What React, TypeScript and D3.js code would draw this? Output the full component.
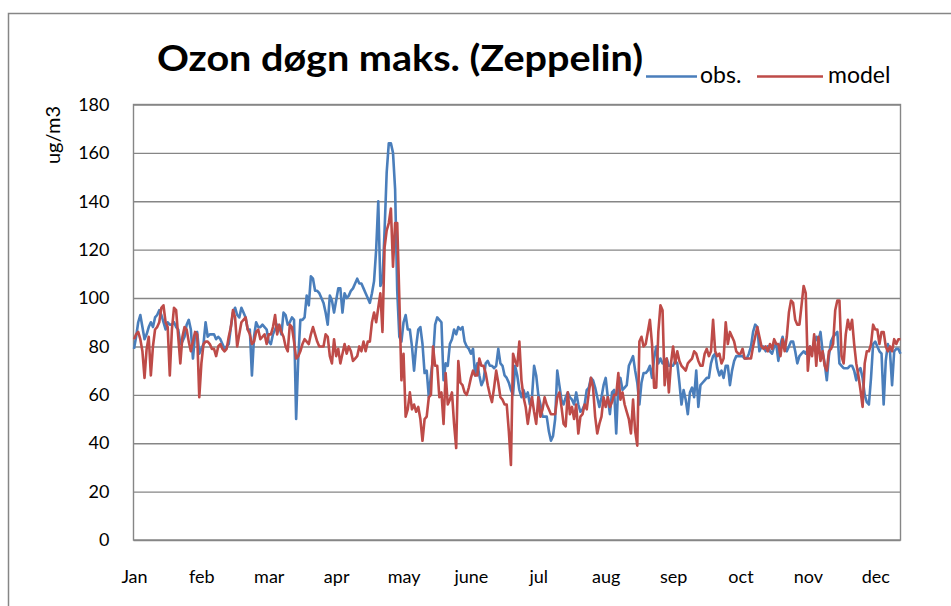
import React, { useEffect, useRef } from "react";
import * as d3 from "d3";

// daily maximum ozone, Zeppelin, one value per day (ug/m3)
const obs: number[] = [
  79, 84, 90, 93, 88, 83, 85, 88, 90, 88,
  92, 93, 95, 93, 90, 87, 90, 89, 89, 90,
  88, 87, 81, 82, 84, 89, 91, 87, 75, 85,
  86, 77, 79, 81, 90, 84, 85, 85, 85, 83,
  84, 83, 81, 79, 80, 81, 88, 94, 96, 93,
  92, 96, 94, 92, 87, 87, 68, 84, 90, 88,
  88, 89, 88, 87, 82, 81, 85, 87, 89, 88,
  85, 94, 93, 89, 90, 92, 91, 50, 75, 91,
  91, 92, 101, 97, 109, 108, 103, 103, 102, 100,
  98, 94, 89, 101, 99, 94, 99, 104, 104, 94,
  102, 100, 101, 103, 104, 106, 108, 106, 106, 104,
  102, 100, 98, 102, 107, 120, 140, 105, 107, 128,
  152, 164, 164, 160, 145, 103, 84, 82, 90, 93,
  87, 87, 80, 70, 80, 87, 88, 81, 69, 70,
  59, 68, 75, 89, 92, 91, 90, 66, 73, 72,
  81, 83, 87, 85, 88, 87, 88, 82, 80, 79,
  77, 79, 68, 73, 68, 64, 66, 73, 74, 72,
  72, 71, 72, 79, 73, 72, 68, 67, 65, 62,
  60, 72, 68, 62, 59, 62, 59, 61, 56, 59,
  72, 68, 60, 56, 51, 51, 51, 45, 41, 43,
  50, 70, 64, 58, 56, 59, 61, 59, 58, 56,
  61, 56, 53, 54, 56, 62, 63, 67, 66, 63,
  59, 55, 59, 64, 67, 59, 52, 61, 62, 44,
  65, 67, 62, 63, 64, 72, 74, 76, 70, 65,
  56, 65, 69, 69, 70, 72, 67, 75, 80, 73,
  75, 73, 74, 75, 72, 72, 72, 74, 73, 65,
  56, 62, 58, 52, 61, 63, 59, 70, 55, 64,
  65, 66, 67, 67, 73, 76, 77, 71, 68, 70,
  67, 72, 72, 64, 70, 74, 76, 76, 76, 76,
  75, 75, 77, 80, 86, 89, 88, 78, 80, 80,
  78, 80, 78, 77, 80, 81, 74, 81, 84, 80,
  78, 80, 82, 82, 78, 73, 76, 77, 78, 77,
  79, 80, 78, 81, 84, 82, 86, 78, 73, 66,
  76, 82, 84, 85, 86, 73, 72, 71, 71, 71,
  72, 72, 70, 66, 70, 71, 67, 60, 57, 56,
  67, 81, 82, 80, 78, 77, 56, 74, 81, 78,
  64, 78, 79, 79, 77,
];

const model: number[] = [
  83, 85, 86, 83, 78, 67, 79, 84, 68, 80,
  87, 88, 90, 96, 97, 90, 88, 68, 87, 96,
  95, 84, 73, 84, 88, 87, 82, 78, 82, 86,
  85, 59, 73, 81, 82, 82, 81, 79, 79, 76,
  80, 81, 79, 78, 79, 84, 88, 95, 92, 80,
  85, 90, 91, 92, 87, 85, 81, 82, 86, 87,
  83, 84, 85, 81, 85, 85, 88, 93, 85, 89,
  86, 84, 80, 78, 89, 88, 82, 75, 76, 78,
  81, 83, 82, 81, 85, 88, 85, 82, 80, 80,
  80, 85, 84, 76, 73, 83, 76, 79, 73, 77,
  81, 77, 80, 78, 74, 75, 76, 80, 78, 82,
  78, 82, 82, 90, 94, 90, 96, 102, 86, 121,
  128, 131, 137, 113, 131, 131, 100, 66, 77, 51,
  54, 61, 54, 56, 53, 55, 50, 41, 50, 51,
  59, 60, 80, 72, 72, 59, 61, 48, 69, 56,
  58, 61, 48, 38, 74, 65, 64, 61, 60, 63,
  67, 70, 68, 68, 75, 72, 72, 69, 64, 60,
  57, 63, 70, 65, 59, 58, 56, 56, 45, 31,
  77, 74, 72, 82, 66, 59, 55, 48, 54, 59,
  53, 48, 59, 51, 54, 59, 56, 54, 52, 52,
  52, 59, 61, 55, 48, 47, 61, 52, 55, 50,
  56, 44, 51, 52, 56, 54, 61, 67, 63, 51,
  44, 48, 51, 59, 55, 59, 55, 57, 60, 60,
  69, 58, 61, 56, 53, 50, 44, 58, 45, 39,
  82, 84, 80, 81, 86, 91, 81, 63, 63, 86,
  97, 95, 64, 75, 61, 73, 80, 73, 78, 74,
  72, 71, 70, 73, 74, 75, 78, 77, 74, 72,
  72, 77, 79, 76, 78, 91, 78, 76, 77, 73,
  75, 90, 81, 86, 84, 82, 78, 77, 77, 79,
  75, 75, 75, 75, 80, 84, 88, 84, 80, 79,
  80, 78, 81, 79, 83, 81, 81, 76, 83, 78,
  84, 94, 99, 98, 91, 89, 89, 97, 105, 102,
  70, 80, 76, 85, 72, 84, 74, 78, 72, 70,
  78, 79, 81, 95, 99, 99, 76, 73, 85, 91,
  87, 91, 81, 73, 68, 62, 55, 73, 78, 78,
  81, 89, 87, 87, 81, 86, 86, 80, 78, 80,
  78, 83, 81, 83, 83,
];

const monthLabels = ["Jan", "feb", "mar", "apr", "may", "june", "jul", "aug", "sep", "oct", "nov", "dec"];
const monthLabelDays = [0, 32, 64, 96, 128, 160, 192, 224, 256, 288, 320, 352];
const yTicks = [0, 20, 40, 60, 80, 100, 120, 140, 160, 180];

const BLUE = "#4A7EBB";
const RED = "#BE4B48";
const GRID = "#868686";
const FONT = "Lato, 'Open Sans', sans-serif";

const App = () => {
  const svgRef = useRef<SVGSVGElement>(null);

  useEffect(() => {
    const svg = d3.select(svgRef.current);
    svg.selectAll("*").remove();

    const width = 951;
    const height = 606;
    const plot = { left: 133.5, right: 900.5, top: 104.5, bottom: 540 };

    svg.attr("width", width).attr("height", height);

    // chart area border (runs on past the right/bottom edge)
    svg.append("path")
      .attr("d", `M8.5,${height + 2}V13.5H${width + 2}`)
      .attr("fill", "none")
      .attr("stroke", GRID)
      .attr("stroke-width", 1.5);

    const x = d3.scaleLinear()
      .domain([0, obs.length - 1])
      .range([plot.left + 0.5, plot.right]);

    const y = d3.scaleLinear()
      .domain([0, 180])
      .range([plot.bottom, plot.top]);

    // gridlines + y labels
    const yAxis = svg.append("g")
      .attr("transform", `translate(${plot.left},0)`)
      .call(
        d3.axisLeft(y)
          .tickValues(yTicks)
          .tickSize(-(plot.right - plot.left))
          .tickPadding(24)
          .tickFormat(d3.format("d"))
      );
    yAxis.select(".domain").remove();
    yAxis.selectAll(".tick line").attr("stroke", GRID).attr("stroke-width", 1.4);
    yAxis.selectAll(".tick text")
      .attr("font-family", FONT)
      .attr("font-size", 18)
      .attr("fill", "#000");

    // plot frame
    svg.append("rect")
      .attr("x", plot.left)
      .attr("y", plot.top)
      .attr("width", plot.right - plot.left)
      .attr("height", plot.bottom - plot.top)
      .attr("fill", "none")
      .attr("stroke", GRID)
      .attr("stroke-width", 1.4);

    // month labels
    const xAxis = svg.append("g")
      .attr("transform", `translate(0,${plot.bottom})`)
      .call(
        d3.axisBottom(x)
          .tickValues(monthLabelDays)
          .tickSize(0)
          .tickPadding(30)
          .tickFormat((d, i) => monthLabels[i])
      );
    xAxis.select(".domain").remove();
    xAxis.selectAll(".tick text")
      .attr("font-family", FONT)
      .attr("font-size", 18)
      .attr("fill", "#000");

    const line = d3.line<number>()
      .x((d, i) => x(i))
      .y(d => y(d));

    svg.append("path")
      .datum(obs)
      .attr("d", line)
      .attr("fill", "none")
      .attr("stroke", BLUE)
      .attr("stroke-width", 2.6)
      .attr("stroke-linejoin", "round");

    svg.append("path")
      .datum(model)
      .attr("d", line)
      .attr("fill", "none")
      .attr("stroke", RED)
      .attr("stroke-width", 2.6)
      .attr("stroke-linejoin", "round");

    // axis title
    svg.append("text")
      .attr("transform", "translate(60,135) rotate(-90)")
      .attr("text-anchor", "middle")
      .attr("font-family", FONT)
      .attr("font-size", 20)
      .text("ug/m3");

    // title
    svg.append("text")
      .attr("x", 157)
      .attr("y", 71)
      .attr("font-family", FONT)
      .attr("font-size", 37)
      .attr("font-weight", "bold")
      .attr("textLength", 486)
      .attr("lengthAdjust", "spacingAndGlyphs")
      .text("Ozon døgn maks. (Zeppelin)");

    // legend
    const legend = [
      { name: "obs.", color: BLUE, x1: 646, x2: 697, tx: 700 },
      { name: "model", color: RED, x1: 757, x2: 823, tx: 828 },
    ];
    legend.forEach(l => {
      svg.append("line")
        .attr("x1", l.x1).attr("x2", l.x2)
        .attr("y1", 76.5).attr("y2", 76.5)
        .attr("stroke", l.color)
        .attr("stroke-width", 2.6);
      svg.append("text")
        .attr("x", l.tx)
        .attr("y", 83)
        .attr("font-family", FONT)
        .attr("font-size", 23)
        .text(l.name);
    });
  }, []);

  return (
    <svg
      ref={svgRef}
      style={{ position: "absolute", left: 0, top: 0, background: "#fff" }}
    ></svg>
  );
};

export default App;
